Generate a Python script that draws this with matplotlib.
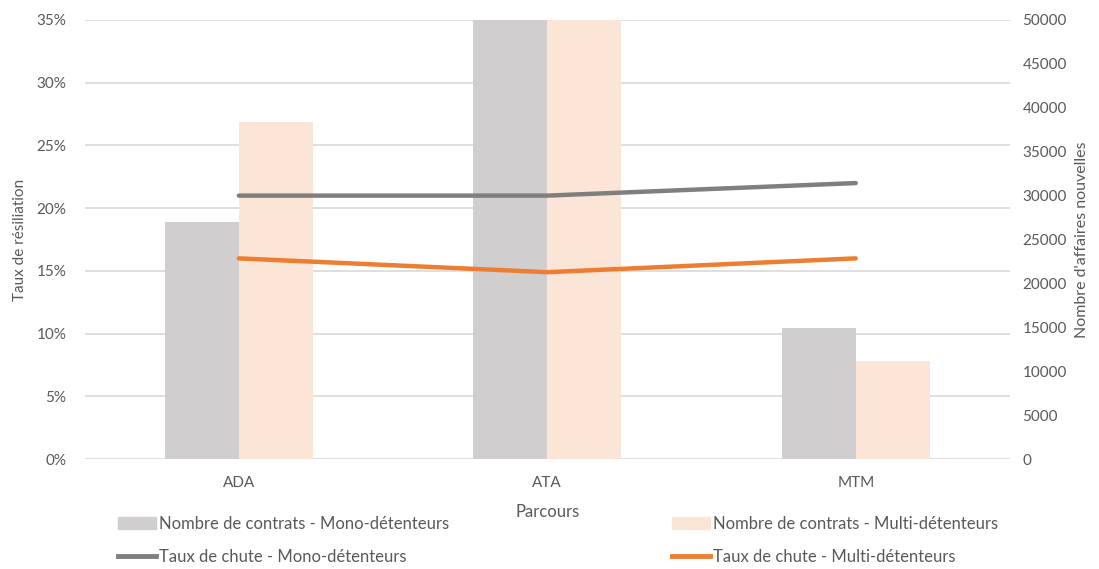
import numpy as np
import matplotlib
matplotlib.use('Agg')
from matplotlib import pyplot as plt
from matplotlib.patches import Patch
from matplotlib.lines import Line2D
from matplotlib.ticker import FuncFormatter

plt.rcParams['font.family'] = ['Lato', 'DejaVu Sans']

# data
parcours = ['ADA', 'ATA', 'MTM']
contrats_mono = [27000, 60000, 14900]
contrats_multi = [38400, 60000, 11200]
chute_mono = [0.21, 0.21, 0.22]
chute_multi = [0.16, 0.149, 0.16]

txt = '#595959'
c_bar_mono = '#D0CECE'
c_bar_multi = '#FBE5D6'
c_line_mono = '#7F7F7F'
c_line_multi = '#ED7D31'

fig = plt.figure(figsize=(10.99, 5.69), dpi=100)
ax = fig.add_axes([0.077, 0.193, 0.842, 0.772])
ax2 = ax.twinx()

x = np.arange(len(parcours))
w = 0.24

# bars on secondary axis
ax2.bar(x - w/2, contrats_mono, w, color=c_bar_mono, zorder=1)
ax2.bar(x + w/2, contrats_multi, w, color=c_bar_multi, zorder=1)
ax2.set_ylim(0, 50000)
ax2.set_yticks(np.arange(0, 50001, 5000))

# gridlines follow the left axis but sit behind the bars
for v in np.arange(0, 0.351, 0.05):
    ax2.axhline(v / 0.35 * 50000, color='#D9D9D9', lw=1.2, zorder=0)

# lines on primary axis, in front
ax.set_zorder(ax2.get_zorder() + 1)
ax.patch.set_visible(False)
ax.plot(x, chute_mono, color=c_line_mono, lw=3.2, solid_capstyle='round', zorder=3)
ax.plot(x, chute_multi, color=c_line_multi, lw=3.2, solid_capstyle='round', zorder=3)

ax.set_ylim(0, 0.35)
ax.set_xlim(-0.5, 2.5)
ax.set_yticks(np.arange(0, 0.351, 0.05))
ax.yaxis.set_major_formatter(FuncFormatter(lambda v, p: '%d%%' % round(v * 100)))
ax.set_xticks(x)
ax.set_xticklabels(parcours)

for a in (ax, ax2):
    for s in a.spines.values():
        s.set_visible(False)
    a.tick_params(length=0, colors=txt, labelsize=11)

ax.tick_params(axis='x', pad=12)
ax.tick_params(axis='y', pad=13)
ax2.tick_params(axis='y', pad=9)

ax.set_xlabel('Parcours', color=txt, fontsize=12, labelpad=10)
ax.set_ylabel('Taux de résiliation', color=txt, fontsize=11, labelpad=7)
ax2.set_ylabel("Nombre d'affaires nouvelles", color=txt, fontsize=11.5, labelpad=6)

h1 = [Patch(color=c_bar_mono), Line2D([], [], color=c_line_mono, lw=3.5)]
l1 = ['Nombre de contrats - Mono-détenteurs', 'Taux de chute - Mono-détenteurs']
h2 = [Patch(color=c_bar_multi), Line2D([], [], color=c_line_multi, lw=3.5)]
l2 = ['Nombre de contrats - Multi-détenteurs', 'Taux de chute - Multi-détenteurs']

for h, l, xp in ((h1, l1, 0.1075), (h2, l2, 0.6115)):
    lg = fig.legend(h, l, loc='upper left', bbox_to_anchor=(xp, 0.094), frameon=False,
                    fontsize=12, labelspacing=1.05, handlelength=2.3, handleheight=0.75,
                    handletextpad=0.15, borderaxespad=0, borderpad=0)
    for t in lg.get_texts():
        t.set_color(txt)

fig.savefig('out.png', dpi=100)
